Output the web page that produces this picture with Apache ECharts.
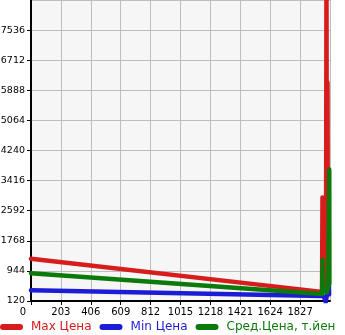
<!DOCTYPE html>
<html><head><meta charset="utf-8">
<script src="https://cdn.jsdelivr.net/npm/echarts@6/dist/echarts.min.js"></script>
<style>html,body{margin:0;padding:0;background:#fff}#c{width:345px;height:335px}</style>
</head><body><div id="c"></div>
<script>
var seriesNames = ['Max Цена', 'Min Цена', 'Сред.Цена, т.йен'];
var seriesColors = ['#d71c1c', '#1c1cd7', '#0b7a0b'];
var maxPrice = [[0,1274],[1976,370],[1979,2950],[1982,520],[2003,480],[2006,9000],[2009,620],[2013,6100],[2016,560]];
var minPrice = [[0,414],[1976,257],[1990,230],[2001,90],[2010,110],[2022,610],[2024,300]];
var avgPrice = [[0,881],[1976,312],[1980,1250],[1984,420],[2008,360],[2018,500],[2025,3718],[2026,600]];
var xTicks = {min:0, max:2030, interval:203};
var yTicks = {min:120, max:8360, interval:824};

var chart = echarts.init(document.getElementById('c'), null, {renderer:'canvas'});
var font = 'DejaVu Sans';
function mk(name, data, color){
  return {name:name, type:'line', data:data, showSymbol:false, symbol:'none', animation:false,
    lineStyle:{color:color, width:4.5, cap:'round', join:'round'}, itemStyle:{color:color}};
}
chart.setOption({
  animation:false,
  grid:{left:31, right:15, top:0, bottom:34, containLabel:false, outerBoundsMode:'none', show:true, backgroundColor:'#f6f6f6', borderWidth:0},
  xAxis:{type:'value', min:xTicks.min, max:xTicks.max, interval:xTicks.interval,
    axisLine:{show:true, onZero:false, lineStyle:{color:'#000', width:2}},
    axisTick:{show:true, length:4, lineStyle:{color:'#000', width:1}},
    splitLine:{show:true, lineStyle:{color:'#bdbdbd', width:1}},
    axisLabel:{color:'#000', fontFamily:font, fontSize:10, margin:6, showMaxLabel:false, hideOverlap:false,
      formatter:function(v){return v===0 ? '{z|0}' : String(v);},
      rich:{z:{padding:[0,16,0,0], fontFamily:font, fontSize:10, color:'#000'}}}},
  yAxis:{type:'value', min:yTicks.min, max:yTicks.max, interval:yTicks.interval,
    axisLine:{show:true, onZero:false, lineStyle:{color:'#000', width:2}},
    axisTick:{show:true, length:4, lineStyle:{color:'#000', width:1}},
    splitLine:{show:true, lineStyle:{color:'#bdbdbd', width:1}},
    axisLabel:{color:'#000', fontFamily:font, fontSize:9.5, margin:6, showMaxLabel:false, padding:[0,0,7,0],
      formatter:function(v){return String(v);}}},
  legend:{left:0, top:321, itemWidth:23, itemHeight:6, itemGap:8, padding:0,
    icon:'path://M3,0 L20,0 A3,3 0 0 1 20,6 L3,6 A3,3 0 0 1 3,0 Z',
    textStyle:{fontFamily:font, fontSize:12, padding:[0,0,0,3]},
    data:seriesNames.map(function(n,i){return {name:n, itemStyle:{color:seriesColors[i]}, textStyle:{color:seriesColors[i], fontFamily:font, fontSize:12, padding:[0,0,0,3]}};})},
  series:[mk(seriesNames[0], maxPrice, seriesColors[0]), mk(seriesNames[1], minPrice, seriesColors[1]), mk(seriesNames[2], avgPrice, seriesColors[2])]
});
</script></body></html>
